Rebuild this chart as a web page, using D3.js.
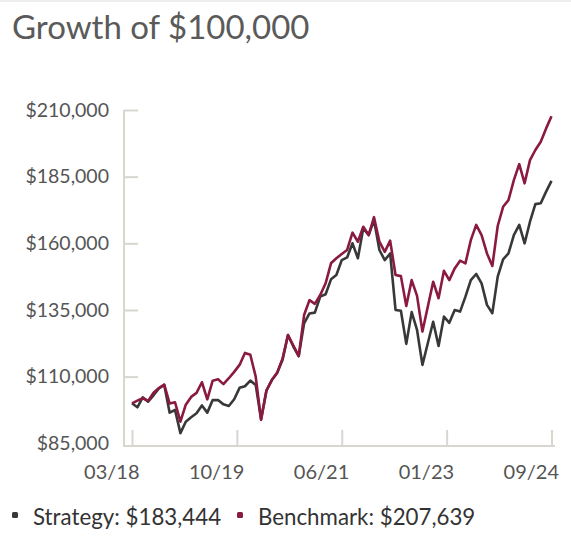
<!DOCTYPE html>
<html><head><meta charset="utf-8">
<script src="https://cdn.jsdelivr.net/npm/d3@7"></script>
<style>
html,body{margin:0;padding:0;background:#fff;}
svg{display:block;font-family:Lato,"Open Sans",sans-serif;}
</style></head>
<body>
<svg id="chart" width="571" height="536"></svg>
<script>
const strategy = [100000,98500,102250,100600,103000,105600,106900,96500,97500,88800,
93100,94750,96250,99200,96500,101200,101200,99600,99000,101500,
105800,106400,108500,106900,94000,104800,108700,111500,116300,125600,
121300,117700,130000,133700,134000,140000,140900,146500,148100,153700,
154700,160000,154400,165600,163100,168700,157500,153700,156200,135000,
134700,122300,134200,127500,114400,122500,130600,121500,132500,130200,
135000,134400,140000,146200,148500,145000,136900,133800,147500,154000,
156200,163100,166900,160000,168100,174700,175000,179400,183444];
const benchmark = [100000,101000,101900,100900,104000,105700,107000,99900,100400,93100,
99500,102400,103900,107900,101500,108500,109000,107200,109400,111800,
114400,118900,118200,110000,93800,104800,108700,111500,116800,125600,
121600,117700,133100,138700,137300,140600,145000,152500,154400,156000,
157500,164000,160600,166200,163100,169800,160600,156800,161000,148100,
147700,136500,146200,140300,126900,136200,145600,139400,149700,146200,
150600,153500,152500,161200,166900,163100,156200,151500,166500,173700,
176200,183700,189700,182500,191200,195000,198100,203100,207639];
const yTickValues = [85000,110000,135000,160000,185000,210000];
const xTickIndex = [0,19.5,39,58.5,78];
const xTickLabels = ["03/18","10/19","06/21","01/23","09/24"];
const seriesNames = ["Strategy","Benchmark"];
const colors = ["#383838","#8a1a42"];

const svg = d3.select("#chart");
const axisColor = "#d9d6d0";
const textColor = "#555555";

svg.append("rect").attr("x",0).attr("y",0).attr("width",571).attr("height",2).attr("fill","#eeeeee");

svg.append("text").attr("x",12).attr("y",39)
  .attr("font-size",33).attr("fill","#5a5a5a").text("Growth of $100,000");

const x = d3.scaleLinear().domain([0, strategy.length-1]).range([132, 551.5]);
const y = d3.scaleLinear().domain([85000,210000]).range([443.3,110]);
const axisY = 446, axisX = 124;

// y axis
const yAxis = d3.axisLeft(y).tickValues(yTickValues).tickSize(-14).tickPadding(15)
  .tickFormat(d => "$" + d3.format(",")(d));
const gy = svg.append("g").attr("transform",`translate(${axisX},0)`).call(yAxis);
gy.select(".domain").remove();
gy.selectAll(".tick line").attr("stroke",axisColor).attr("stroke-width",2)
  .filter(d => d === 85000).remove();
gy.selectAll(".tick text").attr("font-size",19.5).attr("fill",textColor)
  .attr("font-family","Lato,'Open Sans',sans-serif");

// x axis
const xAxis = d3.axisBottom(x).tickValues(xTickIndex).tickSize(-16)
  .tickFormat((d,i) => xTickLabels[i]);
const gx = svg.append("g").attr("transform",`translate(0,${axisY})`).call(xAxis);
gx.select(".domain").remove();
gx.selectAll(".tick line").attr("stroke",axisColor).attr("stroke-width",2);
gx.selectAll(".tick text").attr("font-size",20).attr("fill",textColor)
  .attr("font-family","Lato,'Open Sans',sans-serif")
  .attr("text-anchor","end").attr("x",7).attr("dy",null).attr("y",33);

// axis lines
svg.append("line").attr("x1",axisX).attr("x2",axisX).attr("y1",110).attr("y2",axisY+1)
  .attr("stroke",axisColor).attr("stroke-width",2);
svg.append("line").attr("x1",axisX-1).attr("x2",555).attr("y1",axisY).attr("y2",axisY)
  .attr("stroke",axisColor).attr("stroke-width",2);

// lines
const line = d3.line().x((d,i)=>x(i)).y(d=>y(d)).curve(d3.curveLinear);
[strategy, benchmark].forEach((s,k)=>{
  svg.append("path").datum(s).attr("d",line).attr("fill","none")
    .attr("stroke",colors[k]).attr("stroke-width",2.6).attr("stroke-linejoin","round");
});

// legend
const legend = [
  {name: seriesNames[0], value: strategy[strategy.length-1], color: colors[0], x: 12},
  {name: seriesNames[1], value: benchmark[benchmark.length-1], color: colors[1], x: 237}
];
const lg = svg.append("g");
legend.forEach(l=>{
  lg.append("rect").attr("x",l.x).attr("y",512).attr("width",6).attr("height",6).attr("rx",1.5)
    .attr("fill",l.color);
  lg.append("text").attr("x",l.x+21).attr("y",525).attr("font-size",22.3).attr("fill","#333333")
    .text(l.name + ": $" + d3.format(",")(l.value));
});
</script>
</body></html>
